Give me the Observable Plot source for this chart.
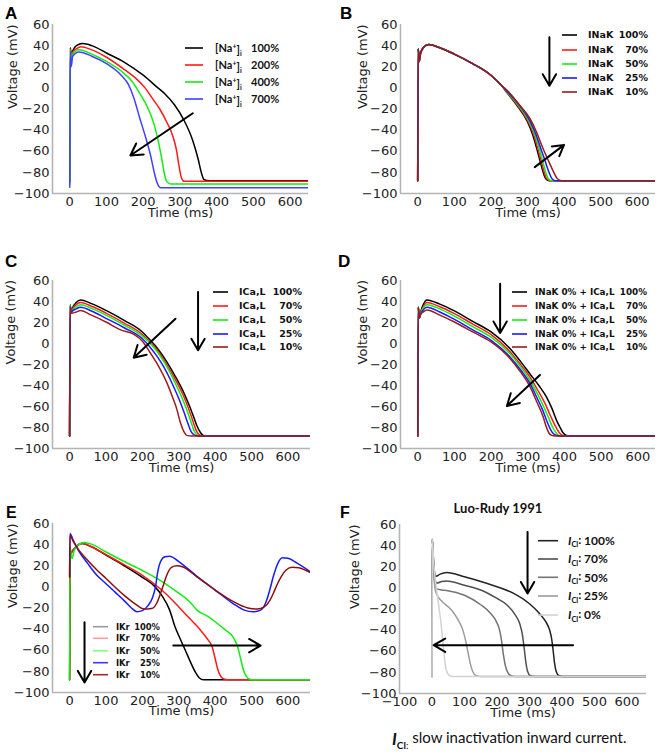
<!DOCTYPE html>
<html><head><meta charset="utf-8">
<script src="https://cdn.jsdelivr.net/npm/d3@7"></script>
<script src="https://cdn.jsdelivr.net/npm/@observablehq/plot@0.6"></script>
<style>
html,body{margin:0;padding:0;background:#fff}
#root{position:relative;width:660px;height:756px;overflow:hidden;background:#fff}
#root svg{position:absolute;overflow:visible}
</style></head><body>
<div id="root"></div>
<script>
// ---------- tick labels ----------
const yTicks = [-100, -80, -60, -40, -20, 0, 20, 40, 60];
const xTicks = [0, 100, 200, 300, 400, 500, 600];
const xTicksF = [-100, 0, 100, 200, 300, 400, 500, 600];

// ---------- Panel A : [Na+]i ----------
const legendA = ["100%", "200%", "400%", "700%"];
const colorsA = ["#000000", "#ff1a1a", "#11ee11", "#4040ff"];
const naA100 = [[0,-88],[1.5,38],[4,31],[8,35],[18,40],[35,42],[60,40],[100,33],[150,24],[200,12],[240,0],[260,-6],[285,-16],[310,-30],[335,-50],[350,-68],[358,-80],[366,-87],[380,-88],[662,-88]];
const naA200 = [[0,-89],[1.5,37],[4,29],[8,34],[18,37],[30,39],[60,36],[100,29],[150,17],[180,9],[205,0],[225,-10],[245,-20],[265,-33],[280,-45],[290,-58],[298,-75],[304,-85],[312,-88.5],[662,-88.5]];
const naA400 = [[0,-91],[1.5,36],[4,27],[8,32],[25,36],[60,32],[100,25],[140,16],[170,6],[190,-5],[210,-17],[230,-35],[242,-52],[252,-70],[258,-82],[265,-89],[275,-91],[662,-91]];
const naA700 = [[0,-94],[1.5,35],[4,20],[8,30],[25,34],[60,30],[100,23],[140,12],[160,3],[175,-10],[190,-28],[205,-45],[220,-64],[230,-80],[238,-90],[248,-94.5],[662,-94.5]];
const arrowsA = [{x1:335, y1:-24, x2:165, y2:-64}];

// ---------- Panel B : INaK ----------
const legendB = ["100%", "70%", "50%", "25%", "10%"];
const colors5 = ["#000000", "#ff1a1a", "#11ee11", "#1a1aff", "#9b1c1c"];
const nakB100 = [[0,-88],[1.5,37],[4,25],[8,33],[18,39],[30,41],[60,38],[100,32],[150,23],[200,12],[230,2],[245,-5],[270,-16],[300,-32],[315,-45],[325,-57],[335,-70],[343,-80],[350,-86],[360,-88],[662,-88]];
const nakB70 = [[0,-88],[1.5,37],[4,25],[8,33],[18,39],[30,41],[60,38],[100,32],[150,23],[200,12],[230,2],[246,-5],[272,-16],[302,-32],[318,-45],[328,-57],[338,-70],[346,-80],[353,-86],[364,-88],[662,-88]];
const nakB50 = [[0,-88],[1.5,37],[4,25],[8,33],[18,39],[30,41],[60,38],[100,32],[150,23],[200,12],[230,2],[247,-5],[274,-16],[305,-32],[321,-45],[332,-57],[342,-70],[350,-80],[357,-86],[368,-88],[662,-88]];
const nakB25 = [[0,-88],[1.5,37],[4,25],[8,33],[18,39],[30,41],[60,38],[100,32],[150,23],[200,12],[230,2],[249,-5],[277,-16],[305,-30],[322,-43],[335,-56],[349,-70],[359,-80],[367,-86],[378,-88],[662,-88]];
const nakB10 = [[0,-88],[1.5,37],[4,25],[8,33],[18,39],[30,41],[60,38],[100,32],[150,23],[200,12],[230,2],[252,-5],[280,-17],[305,-28],[325,-42],[342,-57],[360,-71],[372,-80],[382,-86],[395,-88],[662,-88]];
const arrowsB = [{x1:320, y1:-75, x2:400, y2:-54}, {x1:360, y1:48, x2:360, y2:2}];

// ---------- Panel C : ICa,L ----------
const legendC = ["100%", "70%", "50%", "25%", "10%"];
const calC100 = [[0,-88],[1.5,37],[4,31],[8,34],[18,39],[30,41.5],[60,38],[100,31.5],[150,22],[200,11],[222,3],[240,-4],[268,-18],[290,-31],[314,-47],[330,-60],[341,-70],[352,-80],[360,-85],[370,-88],[662,-88]];
const calC70 = [[0,-88],[1.5,36],[4,30],[8,33],[18,37],[30,39],[60,35.5],[100,29],[150,19.5],[200,8.5],[222,1],[240,-6],[265,-19],[290,-34],[312,-49],[328,-63],[338,-73],[347,-82],[355,-86.5],[365,-88],[662,-88]];
const calC50 = [[0,-88],[1.5,36],[4,30],[8,32],[18,35],[30,37],[60,33.5],[100,27],[150,17.5],[200,7],[222,0],[240,-7.5],[262,-19],[288,-36],[308,-51],[324,-65],[334,-75],[342,-83],[350,-87],[360,-88],[662,-88]];
const calC25 = [[0,-88],[1.5,35],[4,29],[8,31],[18,33],[30,34.5],[60,31],[100,24],[150,15],[200,4.5],[220,-3],[240,-12],[260,-23],[283,-39],[302,-54],[316,-67],[326,-77],[334,-84],[342,-87],[352,-88],[662,-88]];
const calC10 = [[0,-88],[1.5,34],[4,29],[8,29],[18,30],[30,31.5],[60,27],[100,20.5],[140,13],[176,9],[202,1.5],[220,-8],[240,-19],[268,-38],[285,-53],[295,-63],[305,-76],[314,-84],[322,-87.5],[335,-88],[662,-88]];
const arrowsC = [{x1:291, y1:23.6, x2:176, y2:-13.5}, {x1:353, y1:49, x2:353, y2:-6.5}];

// ---------- Panel D : INaK 0% + ICa,L ----------
const legendD = ["100%", "70%", "50%", "25%", "10%"];
const dnD100 = [[0,-88],[1.5,35],[4,24],[8,30],[15,37],[25,41.5],[60,37.5],[100,31],[150,21],[200,11],[252,-5],[280,-17],[306,-29],[330,-40],[351,-51],[366,-62],[378,-73],[388,-80],[396,-85],[405,-87.5],[415,-88],[662,-88]];
const dnD70 = [[0,-88],[1.5,35],[4,24],[8,29],[15,35],[25,39],[60,35],[100,28.5],[150,18.5],[200,8.5],[252,-8],[280,-20],[306,-32],[328,-45],[348,-58],[362,-69],[374,-78],[384,-84],[392,-87],[402,-88],[662,-88]];
const dnD50 = [[0,-88],[1.5,35],[4,24],[8,29],[15,34],[25,37],[60,33],[100,26],[150,16],[200,6],[252,-10],[280,-22],[306,-35],[325,-47],[343,-60],[357,-71],[368,-80],[377,-85],[385,-87.5],[395,-88],[662,-88]];
const dnD25 = [[0,-88],[1.5,34],[4,24],[8,28],[15,32],[25,34.5],[60,30],[100,23],[150,13],[200,3],[252,-13],[280,-25],[306,-38],[324,-51],[340,-63],[352,-74],[362,-82],[370,-86],[378,-87.5],[388,-88],[662,-88]];
const dnD10 = [[0,-88],[1.5,34],[4,25],[8,28],[15,30],[25,32],[60,27],[100,20.5],[150,11],[200,1.5],[252,-14.5],[280,-27],[306,-41],[325,-56],[342,-70],[350,-79],[357,-85],[365,-87.5],[375,-88],[662,-88]];
const arrowsD = [{x1:333, y1:-30, x2:243, y2:-59.5}, {x1:224.5, y1:57, x2:224.5, y2:10}];

// ---------- Panel E : IKr ----------
const legendE = ["100%", "70%", "50%", "25%", "10%"];
const colorsE = ["#000000", "#ff1a1a", "#11ee11", "#1a1aff", "#8b1010"];
const legendColorsE = ["#9a9a9a", "#ff9d9d", "#7dff7d", "#3a3aff", "#a82828"];
const krE100 = [[0,-88],[1.5,30],[6,33],[15,37],[35,41],[60,38],[100,30],[150,20],[200,9],[235,0],[255,-9],[275,-22],[290,-38],[305,-50],[318,-60],[332,-71],[346,-81],[356,-86],[368,-88],[662,-88]];
const krE70 = [[0,-88],[1.5,30],[6,33],[15,37],[35,41],[60,38],[100,30.5],[150,21],[200,11],[250,-2],[275,-10],[300,-19],[330,-30],[360,-41],[380,-50],[392,-57],[400,-68],[407,-78],[414,-84],[422,-87],[435,-88],[662,-88]];
const krE50 = [[0,-88],[1.5,38],[4,30],[7,27],[12,34],[25,40],[40,42],[60,40.5],[100,33],[150,24],[200,15.5],[250,6],[300,-6],[330,-14],[350,-22],[380,-28],[400,-33],[425,-40],[450,-48],[462,-57],[470,-68],[478,-79],[486,-85],[495,-87.5],[510,-88],[662,-88]];
const krE25 = [[0,10],[1,50.5],[10,44],[25,34],[50,22],[75,11],[100,3],[125,-5],[150,-13],[170,-20],[185,-23.5],[200,-22.5],[215,-18],[228,-10],[236,0],[242,14],[250,24],[262,28.5],[275,29],[300,24],[350,10],[400,-3],[450,-16],[480,-22],[505,-23.5],[525,-22],[540,-14],[550,-3],[560,10],[572,22],[585,27.5],[600,27],[625,22.5],[650,17],[662,14]];
const krE10 = [[0,9],[1,49],[10,43],[25,35],[50,25],[75,16],[100,8],[150,-8],[180,-16],[205,-21],[225,-20.5],[240,-15],[250,-6],[258,2],[268,12],[280,18.5],[295,20],[310,19],[350,9.5],[400,-3],[450,-14],[490,-20],[515,-21],[535,-19],[550,-13],[560,-6],[570,2],[582,10],[595,16],[612,18.5],[630,18],[650,15.5],[662,13.5]];
const arrowsE = [{x1:285, y1:-55.6, x2:525, y2:-55.6}, {x1:41, y1:-33.5, x2:41, y2:-90.5}];

// ---------- Panel F : Luo-Rudy 1991, ICl ----------
const legendF = ["100%", "70%", "50%", "25%", "0%"];
const colorsF = ["#222222", "#4f4f4f", "#747474", "#9c9c9c", "#d2d2d2"];
const clF100 = [[0,-84],[1,46],[4,30],[8,14],[12,11],[25,13],[45,14.5],[100,10.5],[150,6],[200,1],[250,-5],[300,-15],[330,-24],[350,-32],[362,-40],[368,-48],[373,-60],[377,-71],[382,-79],[390,-83],[405,-84],[662,-84]];
const clF70 = [[0,-84],[1,46],[4,28],[9,8],[15,4.5],[30,6],[45,6.5],[100,2.5],[150,-2],[200,-10],[230,-16],[255,-25],[270,-34],[278,-44],[284,-58],[289,-71],[294,-79],[302,-83],[320,-84],[662,-84]];
const clF50 = [[0,-84],[1,46],[4,26],[9,3],[15,-1],[30,-2],[45,-2.5],[100,-7],[150,-16],[180,-24],[198,-32],[208,-40],[214,-50],[220,-64],[226,-74],[233,-80],[242,-83],[255,-84],[662,-84]];
const clF25 = [[0,-84],[1,46],[4,24],[10,-2],[20,-9],[31,-13],[60,-21],[80,-30],[95,-40],[105,-52],[112,-63],[118,-72],[125,-79],[135,-83],[150,-84],[662,-84]];
const clF0 = [[0,-84],[1,46],[5,25],[12,3],[20,-15],[30,-40],[37,-62],[42,-75],[48,-81],[57,-83.5],[70,-84],[662,-84]];
const arrowsF = [{x1:434, y1:-54.3, x2:5, y2:-54.3}, {x1:294, y1:53, x2:294, y2:-5.3}];

// ---------- drawing ----------
const root = document.getElementById("root");
const fmt = d => d < 0 ? "\u2212" + Math.abs(d) : String(d);

function panel(cfg) {
  const marks = [
    Plot.ruleX([cfg.xd[0]], {stroke: "#b4b4b4", strokeWidth: 1.6}),
    Plot.ruleY([-100], {stroke: "#b4b4b4", strokeWidth: 1.6}),
    Plot.axisX(cfg.xt, {tickSize: 0, tickPadding: 3, tickFormat: fmt, label: null, fill: "#222"}),
    Plot.axisY(yTicks, {tickSize: 0, tickPadding: 3, tickFormat: fmt, label: null, fill: "#222"}),
    ...cfg.series.map((s, i) => Plot.line(s, {x: d => d[0], y: d => d[1], stroke: cfg.colors[i], strokeWidth: 1.5, curve: "monotone-x", clip: true})),
    Plot.arrow(cfg.arrows, {x1: "x1", y1: "y1", x2: "x2", y2: "y2", stroke: "#000", strokeWidth: 2, headLength: 10, headAngle: 60}),
    Plot.text(["Time (ms)"], {text: d => d, frameAnchor: "bottom", dy: cfg.xlabDy, fontSize: 13, fill: "#222"}),
    Plot.text(["Voltage (mV)"], {text: d => d, frameAnchor: "left", dx: cfg.ylabDx, rotate: -90, fontSize: 13, fill: "#222"})
  ];
  const svg = Plot.plot({
    width: 330, height: cfg.h,
    marginTop: cfg.mt, marginBottom: cfg.mb, marginLeft: cfg.ml, marginRight: cfg.mr,
    x: {domain: cfg.xd}, y: {domain: [-100, 60]},
    style: {fontFamily: "'DejaVu Sans', sans-serif", fontSize: "13px", background: "transparent", color: "#222"},
    marks
  });
  svg.style.left = cfg.left + "px";
  svg.style.top = cfg.top + "px";
  root.appendChild(svg);
  const s = d3.select(svg);
  // panel letter
  s.append("text").attr("x", cfg.letter[1]).attr("y", cfg.letter[2]).attr("text-anchor", "start")
    .attr("font-family", "'Liberation Sans', Arial, sans-serif").attr("font-weight", "bold")
    .attr("font-size", cfg.letter[3]).attr("fill", "#000").text(cfg.letter[0]);
  // legend
  const L = cfg.legend;
  const g = s.append("g").attr("font-family", L.font).attr("font-weight", "bold")
    .attr("font-size", L.size).attr("fill", "#111").attr("text-anchor", "start");
  L.rows.forEach((y, i) => {
    g.append("line").attr("x1", L.lx1).attr("x2", L.lx2).attr("y1", y).attr("y2", y)
      .attr("stroke", L.colors[i]).attr("stroke-width", 1.6);
    const t = g.append("text").attr("x", L.tx).attr("y", y).attr("dy", "0.36em").attr("text-anchor", "start");
    L.name(t, i);
    g.append("text").attr("x", L.px).attr("y", y).attr("dy", "0.36em")
      .attr("text-anchor", L.pAnchor).text(L.pct[i]);
  });
  return s;
}

const plainName = label => (t) => t.text(label);

// A
panel({
  left: 0, top: 0, h: 230, mt: 24, mb: 37, ml: 52, mr: 22, xd: [-47, 650], xt: xTicks,
  xlabDy: 23, ylabDx: -40, colors: colorsA, series: [naA100, naA200, naA400, naA700], arrows: arrowsA,
  letter: ["A", 5, 19, 17],
  legend: {font: "Lato, 'Open Sans', sans-serif", size: 11, rows: [48, 65, 82, 99], lx1: 185, lx2: 203, tx: 215,
    px: 251, pAnchor: "start", pct: legendA, colors: colorsA,
    name: (t) => { t.append("tspan").text("[Na"); t.append("tspan").attr("font-size", 7).attr("dy", "-0.45em").text("+");
      t.append("tspan").attr("dy", "0.45em").text("]"); t.append("tspan").attr("font-size", 7).attr("dy", "0.3em").text("i"); }}
});
// B
panel({
  left: 330, top: 0, h: 230, mt: 24, mb: 37, ml: 70, mr: 5, xd: [-47, 650], xt: xTicks,
  xlabDy: 23, ylabDx: -38, colors: colors5, series: [nakB100, nakB70, nakB50, nakB25, nakB10], arrows: arrowsB,
  letter: ["B", 10, 19, 17],
  legend: {font: "'DejaVu Sans', sans-serif", size: 9.5, rows: [35, 50, 64, 78, 92], lx1: 232, lx2: 247, tx: 258,
    px: 318, pAnchor: "end", pct: legendB, colors: colors5, name: plainName("INaK")}
});
// C
panel({
  left: 0, top: 240, h: 240, mt: 40, mb: 32, ml: 52, mr: 20, xd: [-47, 662], xt: xTicks,
  xlabDy: 23, ylabDx: -42, colors: colors5, series: [calC100, calC70, calC50, calC25, calC10], arrows: arrowsC,
  letter: ["C", 5, 27, 17],
  legend: {font: "'DejaVu Sans', sans-serif", size: 9.5, rows: [52, 66, 80, 94, 107], lx1: 213, lx2: 228, tx: 239,
    px: 302, pAnchor: "end", pct: legendC, colors: colors5, name: plainName("ICa,L")}
});
// D
panel({
  left: 330, top: 240, h: 240, mt: 40, mb: 32, ml: 70, mr: 5, xd: [-47, 648], xt: xTicks,
  xlabDy: 23, ylabDx: -38, colors: colors5, series: [dnD100, dnD70, dnD50, dnD25, dnD10], arrows: arrowsD,
  letter: ["D", 8, 27, 17],
  legend: {font: "'DejaVu Sans', sans-serif", size: 8.8, rows: [52, 66, 80, 94, 107], lx1: 182, lx2: 197, tx: 205,
    px: 317, pAnchor: "end", pct: legendD, colors: colors5, name: plainName("INaK 0% + ICa,L")}
});
// E
panel({
  left: 0, top: 480, h: 276, mt: 43, mb: 64, ml: 52, mr: 20, xd: [-47, 662], xt: xTicks,
  xlabDy: 22, ylabDx: -40, colors: colorsE, series: [krE100, krE70, krE50, krE25, krE10], arrows: arrowsE,
  letter: ["E", 6, 38, 16],
  legend: {font: "'DejaVu Sans', sans-serif", size: 8.4, rows: [146.7, 158.3, 170.7, 182.7, 194.7], lx1: 93, lx2: 108, tx: 116,
    px: 160, pAnchor: "end", pct: legendE, colors: legendColorsE, name: plainName("IKr")}
});
// F
const sF = panel({
  left: 330, top: 480, h: 276, mt: 44, mb: 63, ml: 69, mr: 14, xd: [-100, 660], xt: xTicksF,
  xlabDy: 23, ylabDx: -45, colors: colorsF, series: [clF100, clF70, clF50, clF25, clF0], arrows: arrowsF,
  letter: ["F", 10, 38, 16],
  legend: {font: "Lato, 'Open Sans', sans-serif", size: 12, rows: [60.7, 79, 97.3, 116, 135], lx1: 208, lx2: 228, tx: 238,
    px: 254, pAnchor: "start", pct: legendF, colors: colorsF,
    name: (t) => { t.append("tspan").attr("font-style", "italic").text("I"); t.append("tspan").attr("font-size", 7.5).attr("dy", "0.3em").text("Cl");
      t.append("tspan").attr("dy", "-0.3em").text(":"); }}
});
sF.append("text").attr("x", 168).attr("y", 33).attr("text-anchor", "middle")
  .attr("font-family", "Lato, 'Open Sans', sans-serif").attr("font-weight", "bold").attr("font-size", 13).attr("fill", "#111")
  .text("Luo-Rudy 1991");
const cap = sF.append("text").attr("x", 62).attr("y", 265).attr("text-anchor", "start")
  .attr("font-family", "Lato, 'Open Sans', sans-serif").attr("font-size", 15).attr("fill", "#111");
cap.append("tspan").attr("font-weight", "bold").attr("font-style", "italic").attr("font-size", 17).text("I");
cap.append("tspan").attr("font-weight", "bold").attr("font-size", 10).attr("dy", "0.35em").text("Cl");
cap.append("tspan").attr("font-size", 10).text(":");
cap.append("tspan").attr("dy", "-0.35em").text(" slow inactivation inward current.");
</script>
</body></html>
